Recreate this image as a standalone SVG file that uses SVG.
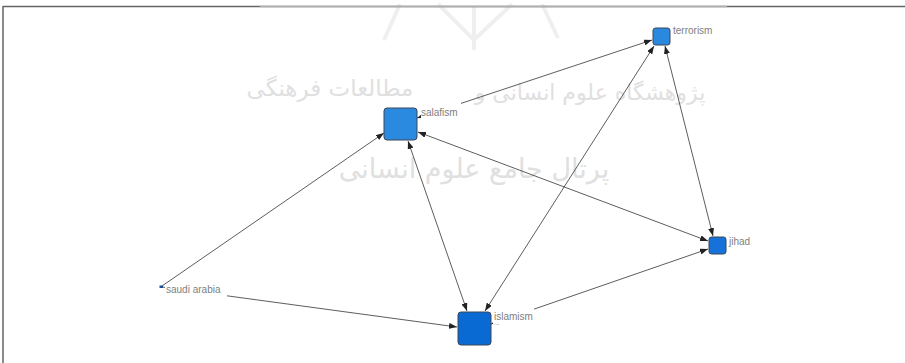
<svg xmlns="http://www.w3.org/2000/svg" width="905" height="363" viewBox="0 0 905 363">
<style>
.edge{stroke:#333;stroke-width:0.8;fill:none;marker-start:url(#ah);marker-end:url(#ah)}
.edge1{stroke:#333;stroke-width:0.8;fill:none;marker-end:url(#ah)}
.node{stroke:#3a4656;stroke-width:1}
.lbl{font-family:"Liberation Sans",Arial,sans-serif;font-size:10px;fill:#808080}
.lbg{fill:#fff}
.wm{font-family:"DejaVu Sans",sans-serif;fill:#e0e0e0;text-anchor:middle}
</style>
<defs>
<marker id="ah" markerUnits="userSpaceOnUse" markerWidth="8" markerHeight="6" viewBox="0 0 8 6" refX="8" refY="3" orient="auto-start-reverse">
<path d="M0,0 L8,3 L0,6 z" fill="#222"/>
</marker>
</defs>
<rect width="905" height="363" fill="#fff"/>
<g id="watermark">
<path d="M400,4 L384,40 M438,4 L474,40 L512,4 M474,6 L474,50 M542,4 L558,38" stroke="#efefef" stroke-width="4" fill="none"/>
<text class="wm" x="590" y="100" font-size="22">پژوهشگاه علوم انسانی و</text>
<text class="wm" x="330" y="96" font-size="23">مطالعات فرهنگی</text>
<text class="wm" x="474" y="178" font-size="27">پرتال جامع علوم انسانی</text>
</g>
<g id="frame">
<path d="M3,6.5 H905 M3,6 V363" stroke="#666" stroke-width="1.5" fill="none"/>
<path d="M260,6.5 H727" stroke="#b0b0b0" stroke-width="1.5" fill="none"/>
</g>
<g id="connectors">
<line class="edge1" x1="162" y1="286" x2="384" y2="133"/>
<line class="edge1" x1="162" y1="287" x2="457" y2="327"/>
<line class="edge" x1="408" y1="141" x2="467" y2="311"/>
<line class="edge" x1="485" y1="311" x2="654" y2="46"/>
<line class="edge" x1="417" y1="118" x2="652" y2="40"/>
<line class="edge" x1="665" y1="46" x2="713" y2="236"/>
<line class="edge" x1="708" y1="241" x2="418" y2="132"/>
<line class="edge" x1="491" y1="324" x2="708" y2="249"/>
</g>
<g id="node-salafism">
<rect class="node" x="384" y="108" width="33" height="32" rx="3" fill="#2a8ae0"/>
<rect class="lbg" x="421" y="103" width="40" height="17"/>
<text class="lbl" x="421" y="116">salafism</text>
</g>
<g id="node-terrorism">
<rect class="node" x="653" y="28" width="17" height="17" rx="2.5" fill="#2a88df"/>
<text class="lbl" x="673" y="34">terrorism</text>
</g>
<g id="node-jihad">
<rect class="node" x="709" y="237" width="17" height="17" rx="2.5" fill="#1672d8"/>
<text class="lbl" x="729" y="245">jihad</text>
</g>
<g id="node-islamism">
<rect class="node" x="458" y="312" width="33" height="33" rx="3" fill="#0a6ad4"/>
<rect class="lbg" x="493" y="307" width="41" height="17"/>
<text class="lbl" x="494" y="320">islamism</text>
</g>
<g id="node-saudi-arabia">
<rect x="159.5" y="285.5" width="3.5" height="2.5" fill="#1a4f90"/>
<rect class="lbg" x="165" y="284" width="62" height="14"/>
<text class="lbl" x="166" y="293">saudi arabia</text>
</g>
</svg>
